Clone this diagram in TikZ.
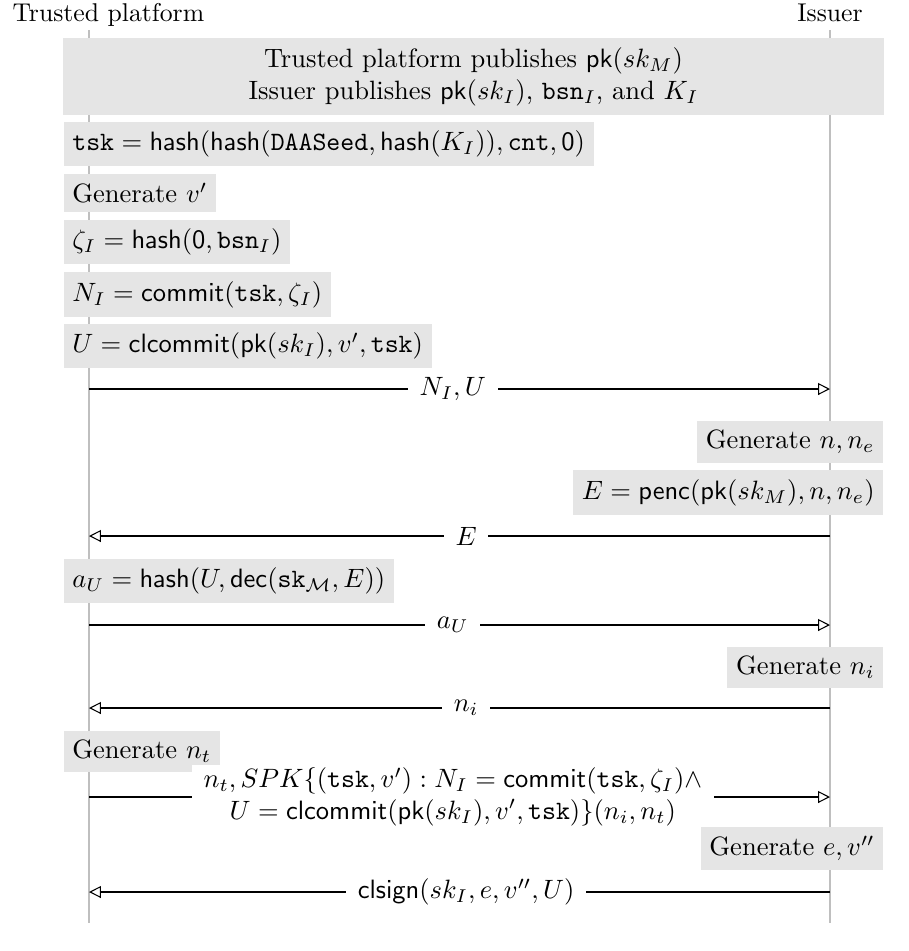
\documentclass[tikz,border=0pt]{standalone}
\usepackage{amsmath,amssymb}
\usetikzlibrary{arrows.meta}
\begin{document}
\begin{tikzpicture}[x=0.377pt,y=-0.377pt,
  lifeline/.style={draw=gray!50,line width=0.8pt},
  actbox/.style={fill=gray!20,inner sep=0.333em},
  leftbox/.style={actbox,anchor=west},
  rightbox/.style={actbox,anchor=east},
  msg/.style={draw=black,line width=0.4pt,-{Triangle[open,length=4.5pt,width=4.5pt]}},
  msglabel/.style={fill=white,inner xsep=4.4pt,inner ysep=1pt,pos=0.491},
  header/.style={inner sep=0pt,anchor=base,font=\fontsize{9.69}{11.6}\selectfont}]
\useasboundingbox (0,0) rectangle (908,951);
% headers
\node[header,anchor=base west] (tpname) at (12,21.5) {Trusted platform};
\node[header] (isname) at (830,21.5) {Issuer};
% lifelines
\coordinate (tptop) at (89,30);
\coordinate (tpbot) at (89,923);
\coordinate (istop) at (830,30);
\coordinate (isbot) at (830,923);
\draw[lifeline] (tptop) -- (tpbot);
\draw[lifeline] (istop) -- (isbot);
% top box
\node[actbox,minimum width=309.5pt,minimum height=28.3pt,align=center] (pub) at (473.5,76.5)
  {Trusted platform publishes $\mathsf{pk}(sk_M)$\\
   Issuer publishes $\mathsf{pk}(sk_I)$, $\mathtt{bsn}_I$, and $K_I$};
% platform actions
\node[leftbox] (tsk) at (63,144) {$\mathtt{tsk} = \mathsf{hash}(\mathsf{hash}(\mathtt{DAASeed}, \mathsf{hash}(K_I)), \mathtt{cnt}, \mathsf{0})$};
\node[leftbox] (genv) at (63,193) {Generate $v'$};
\node[leftbox] (zeta) at (63,242) {$\zeta_I = \mathsf{hash}(\mathsf{0}, \mathtt{bsn}_I)$};
\node[leftbox] (ni) at (63,294.5) {$N_I = \mathsf{commit}(\mathtt{tsk}, \zeta_I)$};
\node[leftbox] (u) at (63,346) {$U = \mathsf{clcommit}(\mathsf{pk}(sk_I), v', \mathtt{tsk})$};
% message 1
\coordinate (a1) at (89,389); \coordinate (b1) at (830,389);
\draw[msg] (a1) -- node[msglabel] (l1) {$N_I, U$} (b1);
% issuer actions
\node[rightbox] (gennne) at (884,442) {Generate $n, n_e$};
\node[rightbox] (penc) at (884,492.5) {$E = \mathsf{penc}(\mathsf{pk}(sk_M), n, n_e)$};
% message 2
\coordinate (a2) at (89,536); \coordinate (b2) at (830,536);
\draw[msg] (b2) -- node[msglabel] (l2) {$E$} (a2);
\node[leftbox] (au) at (63,581) {$a_U = \mathsf{hash}(U, \mathsf{dec}(\mathtt{sk}_{\mathcal{M}}, E))$};
% message 3
\coordinate (a3) at (89,625); \coordinate (b3) at (830,625);
\draw[msg] (a3) -- node[msglabel] (l3) {$a_U$} (b3);
\node[rightbox] (genni) at (884,667.5) {Generate $n_i$};
% message 4
\coordinate (a4) at (89,708); \coordinate (b4) at (830,708);
\draw[msg] (b4) -- node[msglabel] (l4) {$n_i$} (a4);
\node[leftbox] (gennt) at (63,751.5) {Generate $n_t$};
% message 5
\coordinate (a5) at (89,797); \coordinate (b5) at (830,797);
\draw[msg] (a5) -- node[msglabel,align=center] (l5)
  {$n_t, SPK\{(\mathtt{tsk}, v') : N_I = \mathsf{commit}(\mathtt{tsk}, \zeta_I) \wedge$\\
   $U = \mathsf{clcommit}(\mathsf{pk}(sk_I), v', \mathtt{tsk})\}(n_i, n_t)$} (b5);
\node[rightbox] (genev) at (884,848.5) {Generate $e, v''$};
% message 6
\coordinate (a6) at (89,892); \coordinate (b6) at (830,892);
\draw[msg] (b6) -- node[msglabel] (l6) {$\mathsf{clsign}(sk_I, e, v'', U)$} (a6);
\end{tikzpicture}
\end{document}
